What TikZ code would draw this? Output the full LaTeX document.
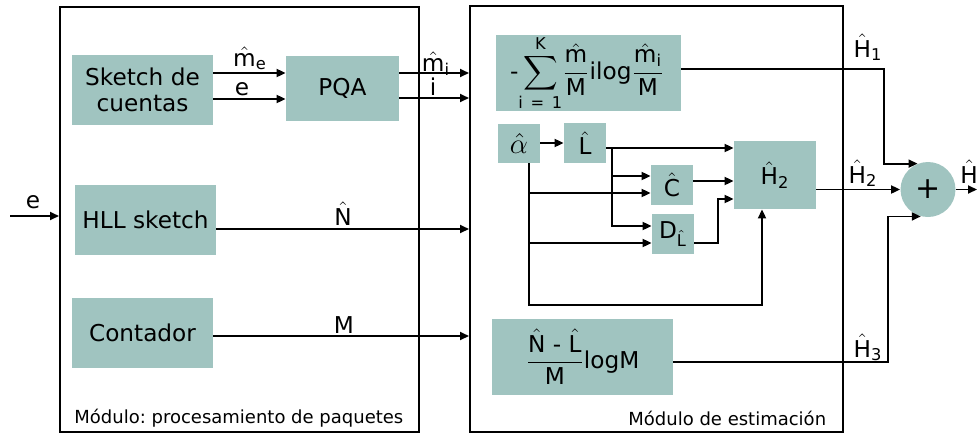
\documentclass[tikz,border=0pt]{standalone}
\usepackage{amsmath}
\usepackage{fontspec}
\setmainfont{DejaVu Sans}
\usetikzlibrary{arrows.meta, positioning}
\definecolor{sage}{RGB}{160,196,192}
\newcommand{\mainsize}{\fontsize{11.6pt}{13pt}\selectfont}
\newcommand{\smallsize}{\fontsize{9pt}{11pt}\selectfont}
\newcommand{\bigsize}{\fontsize{15pt}{15pt}\selectfont}
\frenchspacing

\begin{document}
\begin{tikzpicture}[x=0.5pt, y=-0.5pt, font=\mainsize,
    blk/.style={rectangle, fill=sage, inner sep=0pt, align=center},
    modframe/.style={rectangle, draw, line width=1pt, inner sep=0pt},
    arr/.style={-{Triangle[length=4.5pt, width=4pt]}, line width=0.9pt}]
\useasboundingbox (0,0) rectangle (977,434);
\node[modframe, minimum width=179.5pt, minimum height=212.5pt] (procL) at (239.5,219.5) {};
\node[modframe, minimum width=186.5pt, minimum height=213pt] (procR) at (656.5,219) {};
\node[anchor=base west, inner sep=0pt, font=\smallsize] (procLtxt) at (74,423) {Módulo: procesamiento de paquetes};
\node[anchor=base west, inner sep=0pt, font=\smallsize] (procRtxt) at (628,425) {Módulo de estimación};

\node[blk, minimum width=70.5pt, minimum height=35pt] (sketch) at (142.5,90) {Sketch de\\cuentas};
\node[blk, minimum width=56.5pt, minimum height=32.5pt] (pqa) at (342.5,88.5) {PQA};
\node[blk, minimum width=70.5pt, minimum height=35pt] (hll) at (145.5,220) {HLL sketch};
\node[blk, minimum width=70.5pt, minimum height=35pt] (cont) at (142.5,333) {Contador};

\node[blk, minimum width=92.5pt, minimum height=35pt, text width=78.5pt, inner xsep=7pt, align=left] (sum) at (588.5,73)
  {$\displaystyle\text{-}\!\sum_{\text{i = 1}}^{\text{K}}\!\frac{\hat{\text{m}}}{\text{M}}\text{ilog}\frac{\hat{\text{m}}_\text{i}}{\text{M}}$};
\node[blk, minimum width=21pt, minimum height=19.5pt, font=\bigsize] (alpha) at (519,143.5) {$\hat{\alpha}$};
\node[blk, minimum width=21pt, minimum height=20pt] (lhat) at (585,143) {$\hat{\text{L}}$};
\node[blk, minimum width=21pt, minimum height=20pt] (chat) at (672,185) {$\hat{\text{C}}$};
\node[blk, minimum width=21pt, minimum height=20pt] (dl) at (673,234) {$\text{D}_{\hat{\text{L}}}$};
\node[blk, minimum width=41pt, minimum height=34pt] (h2) at (775,175) {$\hat{\text{H}}_\text{2}$};
\node[blk, minimum width=90.5pt, minimum height=38pt] (nlm) at (582.5,357)
  {$\dfrac{\hat{\text{N}}\text{ - }\hat{\text{L}}}{\text{M}}$logM};
\node[circle, fill=sage, minimum size=27.5pt, inner sep=0pt, font=\bigsize] (plus) at (928,189.5) {+};

\coordinate (ein) at (10,216);
\draw[arr] (ein) -- (ein -| procL.west);
\node[anchor=base] (elbl) at (33,208) {e};

\draw[arr] (sketch.east |- 0,73) -- (pqa.west |- 0,73);
\draw[arr] (sketch.east |- 0,99) -- (pqa.west |- 0,99);
\node[anchor=base] (melbl) at (250,66) {$\hat{\text{m}}_\text{e}$};
\node[anchor=base] (elbl2) at (242,95) {e};

\draw[arr] (pqa.east |- 0,73) -- (procR.west |- 0,73);
\draw[arr] (pqa.east |- 0,98) -- (procR.west |- 0,98);
\node[anchor=base] (milbl) at (436,71) {$\hat{\text{m}}_\text{i}$};
\node[anchor=base] (ilbl) at (433,95) {i};

\draw[arr] (hll.east |- 0,229) -- (procR.west |- 0,229);
\node[anchor=base] (nlbl) at (343,225) {$\hat{\text{N}}$};
\draw[arr] (cont.east |- 0,336) -- (procR.west |- 0,336);
\node[anchor=base] (mlbl) at (344,333) {M};

\coordinate (lsplit) at (612,148);
\coordinate (asplit) at (529,163);
\coordinate (h2in) at ([xshift=-6.5pt]h2.south);
\coordinate (dlbend) at (718,199);
\draw[arr] (alpha.east |- 0,143) -- (lhat.west |- 0,143);
\draw[arr] (lhat.east |- lsplit) -- (h2.west |- lsplit);
\draw[arr] (lsplit) |- (chat.west |- 0,176);
\draw[arr] (lsplit) |- (dl.west |- 0,226);
\draw[arr] (chat.east |- 0,181) -- (h2.west |- 0,181);
\draw[arr] (asplit) |- (chat.west |- 0,193);
\draw[arr] (asplit) |- (dl.west |- 0,243);
\draw[arr] (asplit) -- (asplit |- 0,305) -| (h2in);
\draw[arr] (dl.east |- 0,243) -| (dlbend) -- (h2.west |- dlbend);

\draw[arr] (sum.east |- 0,69) -| (plus.112 -| 884,0) -- (plus.112);
\node[anchor=base] (h1lbl) at (868,57) {$\hat{\text{H}}_\text{1}$};
\draw[arr] (h2.east |- plus.west) -- (plus.west);
\node[anchor=base] (h2lbl) at (863,183) {$\hat{\text{H}}_\text{2}$};
\draw[arr] (nlm.east |- 0,362) -| (plus.255 -| 888,0) -- (plus.255);
\node[anchor=base] (h3lbl) at (868,357) {$\hat{\text{H}}_\text{3}$};
\coordinate (hout) at (977,189.5);
\draw[arr] (plus.east) -- (hout);
\node[anchor=base west, inner sep=0pt] (hlbl) at (960,183) {$\hat{\text{H}}$};
\end{tikzpicture}
\end{document}
